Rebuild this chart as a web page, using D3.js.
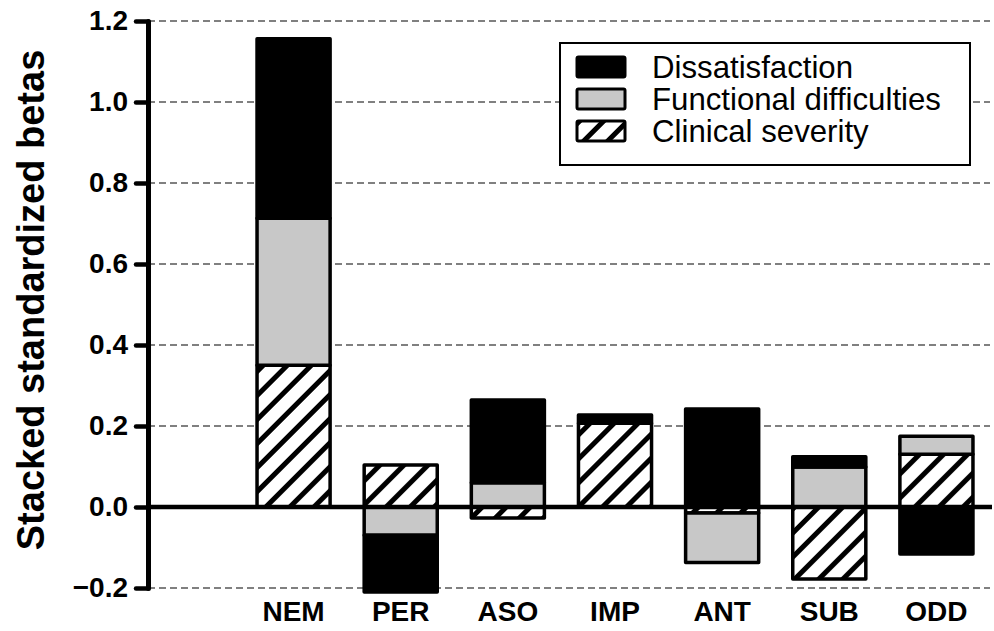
<!DOCTYPE html>
<html>
<head>
<meta charset="utf-8">
<script src="https://cdn.jsdelivr.net/npm/d3@7"></script>
<style>
  html, body { margin: 0; padding: 0; background: #fff; }
  svg { display: block; }
</style>
</head>
<body>
<svg id="chart" width="994" height="631"></svg>
<script>
// ---- data ----
const categories = ["NEM", "PER", "ASO", "IMP", "ANT", "SUB", "ODD"];
const clinicalSeverity = [0.350, 0.104, -0.027, 0.207, -0.015, -0.178, 0.130];
const functionalDifficulties = [0.363, -0.070, 0.060, 0.000, -0.122, 0.099, 0.045];
const dissatisfaction = [0.443, -0.140, 0.204, 0.020, 0.242, 0.025, -0.116];
const yTicks = [-0.2, 0.0, 0.2, 0.4, 0.6, 0.8, 1.0, 1.2];
const seriesKeys = ["clinical", "functional", "dissatisfaction"];
const legendLabels = ["Dissatisfaction", "Functional difficulties", "Clinical severity"];
const legendKeys = ["dissatisfaction", "functional", "clinical"];

const rows = categories.map((c, i) => ({
  cat: c,
  clinical: clinicalSeverity[i],
  functional: functionalDifficulties[i],
  dissatisfaction: dissatisfaction[i]
}));

const svg = d3.select("#chart");
const axisX = 148, plotRight = 990;

const x = d3.scaleBand().domain(categories).range([240, 990]).paddingInner(0.318).paddingOuter(0.159);
const y = d3.scaleLinear().domain([-0.2, 1.2]).range([588, 21]);

const defs = svg.append("defs");
const pat = defs.append("pattern")
  .attr("id", "hatch").attr("patternUnits", "userSpaceOnUse")
  .attr("width", 17).attr("height", 17)
  .attr("patternTransform", "rotate(45)");
pat.append("rect").attr("width", 17).attr("height", 17).attr("fill", "#fff");
pat.append("rect").attr("x", 0).attr("y", 0).attr("width", 5).attr("height", 17).attr("fill", "#000");

const fills = { dissatisfaction: "#000", functional: "#c8c8c8", clinical: "url(#hatch)" };

// gridlines
svg.append("g").selectAll("line").data(yTicks.filter(d => d !== 0)).join("line")
  .attr("x1", axisX).attr("x2", plotRight)
  .attr("y1", d => y(d)).attr("y2", d => y(d))
  .attr("stroke", "#808080").attr("stroke-width", 2).attr("stroke-dasharray", "7,4");

// stacked bars
const stack = d3.stack().keys(seriesKeys).offset(d3.stackOffsetDiverging);
const series = stack(rows);

const gBars = svg.append("g");
series.forEach(s => {
  gBars.append("g").selectAll("rect").data(s).join("rect")
    .attr("x", d => x(d.data.cat))
    .attr("width", x.bandwidth())
    .attr("y", d => y(Math.max(d[0], d[1])))
    .attr("height", d => Math.abs(y(d[0]) - y(d[1])))
    .attr("fill", fills[s.key])
    .attr("stroke", "#000").attr("stroke-width", 3.5)
    .attr("stroke-linejoin", "round")
    .attr("display", d => Math.abs(d[1] - d[0]) < 1e-9 ? "none" : null);
});

// zero line
svg.append("line").attr("x1", axisX).attr("x2", plotRight + 2)
  .attr("y1", y(0)).attr("y2", y(0)).attr("stroke", "#000").attr("stroke-width", 4.5);

// y axis
const yAxis = d3.axisLeft(y).tickValues(yTicks).tickFormat(d3.format(".1f")).tickSizeInner(12).tickSizeOuter(0).tickPadding(8);
const gy = svg.append("g").attr("transform", `translate(${axisX},0)`).call(yAxis);
gy.select(".domain").attr("stroke", "#000").attr("stroke-width", 5).attr("stroke-linecap", "round");
gy.selectAll(".tick line").attr("stroke", "#000").attr("stroke-width", 4.5).attr("stroke-linecap", "round");
gy.selectAll(".tick text").attr("font-family", "Liberation Sans, Arial, sans-serif")
  .attr("font-weight", "bold").attr("font-size", 28).attr("fill", "#000");

// x axis labels
const xAxis = d3.axisBottom(x).tickSize(0).tickPadding(0);
const gx = svg.append("g").attr("transform", `translate(0,596)`).call(xAxis);
gx.select(".domain").remove();
gx.selectAll(".tick text").attr("font-family", "Liberation Sans, Arial, sans-serif")
  .attr("font-weight", "bold").attr("font-size", 28).attr("fill", "#000").attr("dy", "0.88em");

// y label
svg.append("text")
  .attr("transform", "translate(44,300) rotate(-90)")
  .attr("text-anchor", "middle")
  .attr("font-family", "Liberation Sans, Arial, sans-serif")
  .attr("font-weight", "bold").attr("font-size", 38)
  .text("Stacked standardized betas");

// legend
const lg = svg.append("g");
lg.append("rect").attr("x", 560).attr("y", 43).attr("width", 410).attr("height", 122)
  .attr("fill", "#fff").attr("stroke", "#000").attr("stroke-width", 2);
const ly = d3.scalePoint().domain(legendKeys).range([67, 131]);
legendKeys.forEach((k, i) => {
  lg.append("rect").attr("x", 577).attr("y", ly(k) - 10).attr("width", 48).attr("height", 20)
    .attr("fill", fills[k]).attr("stroke", "#000").attr("stroke-width", 3).attr("rx", 1.5);
  lg.append("text").attr("x", 652).attr("y", ly(k) + 11)
    .attr("font-family", "Liberation Sans, Arial, sans-serif")
    .attr("font-size", 31.2).attr("fill", "#000")
    .text(legendLabels[i]);
});
</script>
</body>
</html>
